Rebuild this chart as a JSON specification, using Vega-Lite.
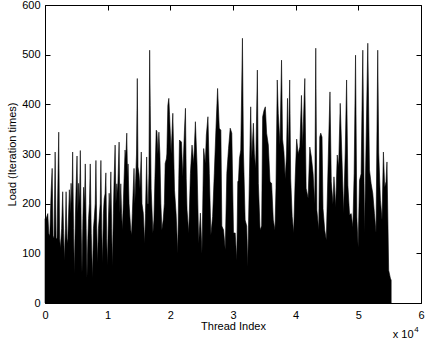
{
  "$schema": "https://vega.github.io/schema/vega-lite/v6.json",
  "width": 376,
  "height": 298,
  "autosize": {"type": "none"},
  "padding": {"left": 45, "top": 5, "right": 4, "bottom": 42},
  "background": "white",
  "config": {
    "view": {"stroke": "black", "strokeWidth": 1},
    "font": "Liberation Sans",
    "axis": {"grid": false, "domain": false, "labelFont": "Liberation Sans", "labelFontSize": 11, "labelColor": "black", "tickColor": "black", "tickWidth": 1, "titleFont": "Liberation Sans", "titleFontWeight": "normal", "titleColor": "black", "titleFontSize": 11}
  },
  "datasets": {
    "load": [
      {"thread":0,"load":170},{"thread":190,"load":170},{"thread":444,"load":180},{"thread":603,"load":140},{"thread":762,"load":135},{"thread":984,"load":227},{"thread":1143,"load":271},{"thread":1286,"load":135},{"thread":1444,"load":130},{"thread":1619,"load":304},{"thread":1762,"load":130},{"thread":1921,"load":130},{"thread":2190,"load":344},{"thread":2333,"load":130},{"thread":2460,"load":110},{"thread":2651,"load":150},{"thread":2825,"load":224},{"thread":2968,"load":140},{"thread":3095,"load":85},{"thread":3254,"load":150},{"thread":3365,"load":224},{"thread":3508,"load":130},{"thread":3619,"load":120},{"thread":3889,"load":228},{"thread":4032,"load":180},{"thread":4159,"load":241},{"thread":4302,"load":200},{"thread":4413,"load":304},{"thread":4556,"load":150},{"thread":4683,"load":60},{"thread":4841,"load":170},{"thread":4952,"load":228},{"thread":5111,"load":296},{"thread":5238,"load":180},{"thread":5365,"load":241},{"thread":5508,"load":200},{"thread":5635,"load":307},{"thread":5778,"load":150},{"thread":5905,"load":60},{"thread":6048,"load":170},{"thread":6159,"load":233},{"thread":6302,"load":200},{"thread":6429,"load":280},{"thread":6571,"load":150},{"thread":6698,"load":50},{"thread":6841,"load":130},{"thread":6952,"load":170},{"thread":7095,"load":200},{"thread":7222,"load":280},{"thread":7381,"load":140},{"thread":7587,"load":50},{"thread":7730,"load":150},{"thread":7857,"load":170},{"thread":8016,"load":200},{"thread":8127,"load":287},{"thread":8254,"load":150},{"thread":8381,"load":80},{"thread":8524,"load":150},{"thread":8651,"load":170},{"thread":8810,"load":200},{"thread":8921,"load":287},{"thread":9048,"load":150},{"thread":9175,"load":80},{"thread":9317,"load":180},{"thread":9444,"load":210},{"thread":9587,"load":220},{"thread":9714,"load":262},{"thread":9841,"load":130},{"thread":9968,"load":75},
      {"thread":10079,"load":150},{"thread":10238,"load":221},{"thread":10365,"load":180},{"thread":10508,"load":264},{"thread":10635,"load":150},{"thread":10762,"load":73},{"thread":10905,"load":180},{"thread":11032,"load":250},{"thread":11190,"load":318},{"thread":11317,"load":200},{"thread":11460,"load":240},{"thread":11587,"load":220},{"thread":11825,"load":324},{"thread":11952,"load":180},{"thread":12095,"load":240},{"thread":12222,"load":180},{"thread":12349,"load":147},{"thread":12492,"load":200},{"thread":12619,"load":250},{"thread":12778,"load":308},{"thread":12889,"load":290},{"thread":13048,"load":342},{"thread":13175,"load":250},{"thread":13254,"load":280},{"thread":13413,"load":200},{"thread":13683,"load":147},{"thread":13810,"load":137},{"thread":13937,"load":180},{"thread":14080,"load":230},{"thread":14206,"load":271},{"thread":14333,"load":200},{"thread":14476,"load":250},{"thread":14603,"load":300},{"thread":14730,"load":452},{"thread":14841,"load":274},{"thread":15000,"load":260},{"thread":15159,"load":230},{"thread":15365,"load":304},{"thread":15476,"load":200},{"thread":15683,"load":181},{"thread":15905,"load":120},{"thread":16032,"load":180},{"thread":16222,"load":294},{"thread":16349,"load":200},{"thread":16476,"load":200},{"thread":16587,"load":260},{"thread":16698,"load":509},{"thread":16794,"load":398},{"thread":16937,"load":230},{"thread":17222,"load":141},{"thread":17381,"load":167},{"thread":17540,"load":250},{"thread":17746,"load":348},{"thread":17857,"load":346},{"thread":18016,"load":300},{"thread":18175,"load":344},{"thread":18333,"load":300},{"thread":18492,"load":200},{"thread":18651,"load":147},{"thread":18857,"load":167},{"thread":19048,"load":200},{"thread":19175,"load":281},{"thread":19365,"load":290},{"thread":19444,"load":300},{"thread":19603,"load":398},{"thread":19762,"load":412},{"thread":19873,"load":380},
      {"thread":20127,"load":300},{"thread":20397,"load":382},{"thread":20667,"load":227},{"thread":20921,"load":180},{"thread":21190,"load":100},{"thread":21349,"load":250},{"thread":21460,"load":328},{"thread":21778,"load":324},{"thread":21984,"load":254},{"thread":22254,"load":348},{"thread":22413,"load":392},{"thread":22540,"load":250},{"thread":22667,"load":187},{"thread":22937,"load":141},{"thread":23206,"load":261},{"thread":23460,"load":318},{"thread":23730,"load":281},{"thread":24000,"load":365},{"thread":24254,"load":281},{"thread":24524,"load":120},{"thread":24794,"load":181},{"thread":25048,"load":100},{"thread":25317,"load":311},{"thread":25587,"load":281},{"thread":25746,"load":338},{"thread":26000,"load":375},{"thread":26222,"load":261},{"thread":26476,"load":137},{"thread":26746,"load":174},{"thread":27016,"load":261},{"thread":27270,"load":348},{"thread":27540,"load":432},{"thread":27810,"load":352},{"thread":28063,"load":348},{"thread":28222,"load":155},{"thread":28492,"load":147},{"thread":28762,"load":107},{"thread":29016,"load":261},{"thread":29286,"load":311},{"thread":29556,"load":352},{"thread":29810,"load":342},
      {"thread":30079,"load":141},{"thread":30349,"load":141},{"thread":30603,"load":86},{"thread":30762,"load":244},{"thread":30873,"load":247},{"thread":31032,"load":291},{"thread":31238,"load":308},{"thread":31508,"load":533},{"thread":31667,"load":304},{"thread":31937,"load":167},{"thread":32190,"load":155},{"thread":32349,"load":73},{"thread":32619,"load":254},{"thread":32825,"load":395},{"thread":32984,"load":290},{"thread":33254,"load":362},{"thread":33413,"load":300},{"thread":33619,"load":271},{"thread":33889,"load":469},{"thread":34048,"load":241},{"thread":34317,"load":147},{"thread":34571,"load":155},{"thread":34730,"load":375},{"thread":34952,"load":388},{"thread":35159,"load":395},{"thread":35365,"load":342},{"thread":35635,"load":318},{"thread":35905,"load":244},{"thread":36159,"load":241},{"thread":36429,"load":167},{"thread":36698,"load":147},{"thread":36857,"load":231},{"thread":37063,"load":449},{"thread":37222,"load":382},{"thread":37492,"load":318},{"thread":37746,"load":489},{"thread":37905,"load":330},{"thread":38127,"load":304},{"thread":38333,"load":250},{"thread":38540,"load":300},{"thread":38698,"load":412},{"thread":38841,"load":300},{"thread":39048,"load":449},{"thread":39206,"load":250},{"thread":39444,"load":174},{"thread":39683,"load":141},{"thread":39921,"load":250},
      {"thread":40159,"load":330},{"thread":40397,"load":300},{"thread":40667,"load":314},{"thread":40921,"load":418},{"thread":41111,"load":314},{"thread":41460,"load":452},{"thread":41667,"load":231},{"thread":41984,"load":211},{"thread":42254,"load":314},{"thread":42508,"load":294},{"thread":42778,"load":261},{"thread":43048,"load":199},{"thread":43206,"load":513},{"thread":43381,"load":187},{"thread":43683,"load":147},{"thread":43841,"load":334},{"thread":44000,"load":342},{"thread":44206,"load":334},{"thread":44365,"load":190},{"thread":44635,"load":147},{"thread":44889,"load":127},{"thread":45270,"load":328},{"thread":45476,"load":425},{"thread":45683,"load":244},{"thread":45952,"load":199},{"thread":46111,"load":254},{"thread":46381,"load":193},{"thread":46635,"load":298},{"thread":46857,"load":274},{"thread":47111,"load":402},{"thread":47381,"load":294},{"thread":47651,"load":181},{"thread":47905,"load":302},{"thread":48127,"load":449},{"thread":48333,"load":237},{"thread":48603,"load":177},{"thread":48857,"load":180},{"thread":49127,"load":153},{"thread":49333,"load":261},{"thread":49556,"load":499},{"thread":49762,"load":173},{"thread":49968,"load":113},
      {"thread":50190,"load":247},{"thread":50444,"load":260},{"thread":50714,"load":509},{"thread":50984,"load":141},{"thread":51238,"load":322},{"thread":51508,"load":523},{"thread":51778,"load":268},{"thread":52032,"load":241},{"thread":52302,"load":221},{"thread":52571,"load":180},{"thread":52825,"load":141},{"thread":53095,"load":509},{"thread":53254,"load":302},{"thread":53524,"load":207},{"thread":53778,"load":167},{"thread":54000,"load":304},{"thread":54206,"load":233},{"thread":54413,"load":244},{"thread":54571,"load":284},{"thread":54841,"load":66},{"thread":55111,"load":50},{"thread":55238,"load":46}
    ]
  },
  "layer": [
    {
      "data": {"name": "load"},
      "mark": {"type": "area", "color": "black", "stroke": "black", "strokeWidth": 0.6, "interpolate": "linear"},
      "encoding": {
        "x": {"field": "thread", "type": "quantitative", "scale": {"domain": [0, 60000], "nice": false, "zero": false},
          "axis": {"orient": "bottom", "values": [0, 10000, 20000, 30000, 40000, 50000, 60000], "labelExpr": "datum.value / 10000", "tickSize": -5, "labelPadding": 11, "labelFlush": false, "labelOverlap": false, "title": "Thread Index", "titleX": 188, "titleY": 23, "titleBaseline": "middle", "titleAnchor": null}},
        "y": {"field": "load", "type": "quantitative", "scale": {"domain": [0, 600], "nice": false},
          "axis": {"orient": "left", "values": [0, 100, 200, 300, 400, 500, 600], "tickSize": -5, "labelPadding": 10, "labelFlush": false, "labelOverlap": false, "title": "Load (Iteration times)", "titleX": -33, "titleY": 149, "titleBaseline": "middle", "titleAngle": -90, "titleAnchor": null}}
      }
    },
    {
      "data": {"values": [{"thread": 0, "load": 0}]},
      "mark": {"type": "point", "opacity": 0},
      "encoding": {
        "x": {"field": "thread", "type": "quantitative", "axis": {"orient": "top", "values": [0, 10000, 20000, 30000, 40000, 50000, 60000], "labels": false, "tickSize": -5, "title": null}},
        "y": {"field": "load", "type": "quantitative", "axis": {"orient": "right", "values": [0, 100, 200, 300, 400, 500, 600], "labels": false, "tickSize": -5, "title": null}}
      }
    },
    {
      "data": {"values": [{"thread": 58803, "load": -70.5, "label": "x 10"}]},
      "mark": {"type": "text", "align": "right", "baseline": "alphabetic", "fontSize": 11, "font": "Liberation Sans", "color": "black", "clip": false},
      "encoding": {
        "x": {"field": "thread", "type": "quantitative", "axis": null},
        "y": {"field": "load", "type": "quantitative", "axis": null},
        "text": {"field": "label"}
      }
    },
    {
      "data": {"values": [{"thread": 58940, "load": -58.5, "label": "4"}]},
      "mark": {"type": "text", "align": "left", "baseline": "alphabetic", "fontSize": 8, "font": "Liberation Sans", "color": "black", "clip": false},
      "encoding": {
        "x": {"field": "thread", "type": "quantitative", "axis": null},
        "y": {"field": "load", "type": "quantitative", "axis": null},
        "text": {"field": "label"}
      }
    }
  ],
  "resolve": {"axis": {"x": "independent", "y": "independent"}}
}
